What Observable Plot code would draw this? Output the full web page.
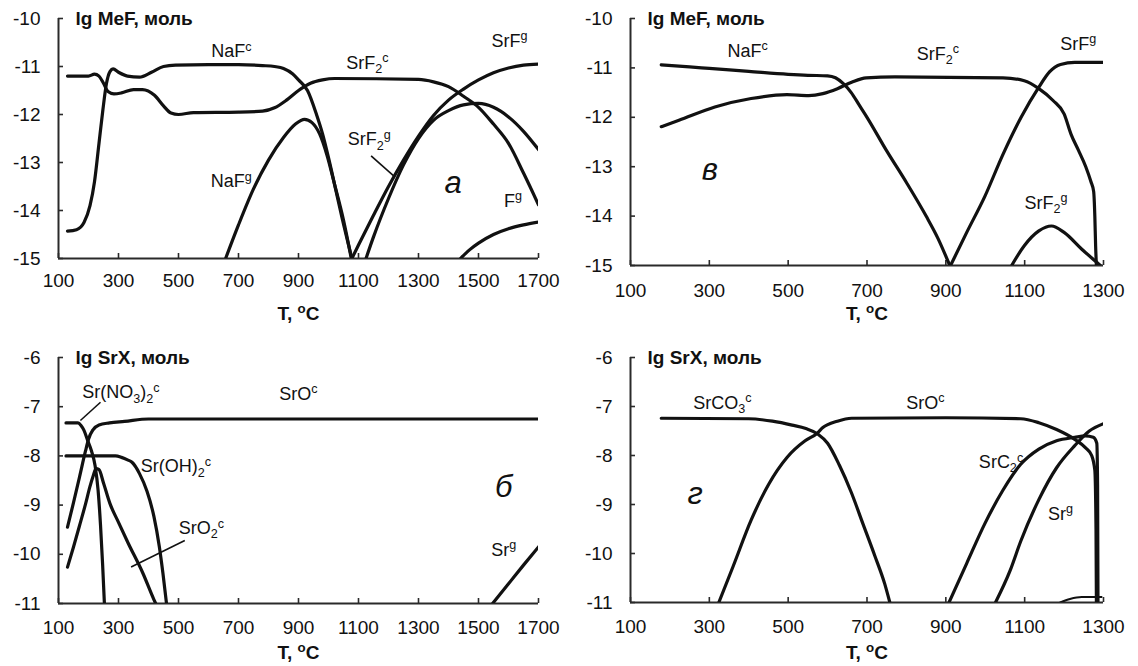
<!DOCTYPE html>
<html>
<head>
<meta charset="utf-8">
<script src="https://cdn.jsdelivr.net/npm/d3@7"></script>
<script src="https://cdn.jsdelivr.net/npm/@observablehq/plot@0.6"></script>
<style>
  body { margin: 0; background: #fff; }
  #wrap { position: relative; width: 1138px; height: 666px; overflow: hidden; }
  .panel { position: absolute; }
</style>
</head>
<body>
<div id="wrap"></div>
<script>
const FONT = "'Liberation Sans', Arial, Helvetica, sans-serif";

// Axis ticks
const tempTicksWide = [100, 300, 500, 700, 900, 1100, 1300, 1500, 1700];
const tempTicksNarrow = [100, 300, 500, 700, 900, 1100, 1300];
const mefTicks = [-15, -14, -13, -12, -11, -10];
const srxTicks = [-11, -10, -9, -8, -7, -6];

// Panel а: lg MeF vs T, 100–1700 °C  ([T, lg n])
const aNaFc = [[130,-14.43],[160,-14.4],[185,-14.25],[205,-13.9],[220,-13.4],[235,-12.6],[248,-11.9],[260,-11.35],[272,-11.1],[282,-11.05],[300,-11.12],[330,-11.2],[370,-11.22],[410,-11.12],[450,-11.0],[490,-10.97],[600,-10.96],[700,-10.96],[780,-10.98],[820,-11.0],[850,-11.04],[880,-11.15],[900,-11.28],[930,-11.5],[960,-12.0],[980,-12.4],[1000,-12.9],[1020,-13.45],[1045,-14.15],[1078,-15]];
const aSrF2c = [[130,-11.2],[200,-11.2],[220,-11.16],[235,-11.2],[250,-11.35],[265,-11.52],[285,-11.57],[310,-11.55],[350,-11.48],[380,-11.48],[420,-11.6],[450,-11.82],[475,-11.97],[500,-12.0],[550,-11.96],[700,-11.95],[780,-11.93],[820,-11.86],[860,-11.7],[900,-11.5],[940,-11.35],[980,-11.28],[1020,-11.25],[1300,-11.27],[1350,-11.32],[1400,-11.42],[1450,-11.62],[1500,-11.85],[1550,-12.2],[1600,-12.6],[1650,-13.22],[1700,-13.88]];
const aSrFg = [[1078,-15],[1100,-14.72],[1150,-14.1],[1200,-13.5],[1250,-12.95],[1300,-12.45],[1350,-12.02],[1400,-11.7],[1450,-11.47],[1500,-11.28],[1550,-11.13],[1600,-11.03],[1650,-10.97],[1700,-10.95]];
const aSrF2g = [[1125,-15],[1150,-14.55],[1200,-13.75],[1250,-13.05],[1300,-12.5],[1350,-12.12],[1400,-11.92],[1450,-11.8],[1500,-11.77],[1550,-11.85],[1600,-12.05],[1650,-12.35],[1700,-12.73]];
const aFg = [[1440,-15],[1470,-14.82],[1500,-14.68],[1550,-14.5],[1600,-14.38],[1650,-14.3],[1700,-14.24]];
const aNaFg = [[657,-15],[700,-14.3],[750,-13.55],[800,-12.95],[850,-12.48],[890,-12.2],[920,-12.1],[945,-12.17],[970,-12.4],[995,-12.85],[1020,-13.45],[1050,-14.2],[1076,-15]];

// Panel в: lg MeF vs T, 100–1300 °C
const vNaFc = [[178,-10.94],[250,-10.98],[300,-11.01],[400,-11.07],[500,-11.13],[550,-11.15],[600,-11.16],[620,-11.2],[640,-11.32],[660,-11.5],[680,-11.75],[700,-12.0],[750,-12.68],[800,-13.32],[850,-14.0],[880,-14.45],[910,-15]];
const vSrF2c = [[178,-12.19],[223,-12.06],[314,-11.79],[406,-11.62],[497,-11.54],[552,-11.56],[588,-11.52],[625,-11.42],[661,-11.29],[698,-11.2],[771,-11.18],[1045,-11.2],[1099,-11.26],[1136,-11.42],[1172,-11.66],[1200,-11.93],[1218,-12.35],[1236,-12.66],[1255,-13.0],[1268,-13.3],[1275,-13.5],[1278,-14.0],[1280,-14.6],[1282,-15]];
const vSrFg = [[912,-15],[953,-14.33],[999,-13.6],[1045,-12.75],[1091,-12.0],[1136,-11.39],[1163,-11.08],[1191,-10.93],[1227,-10.89],[1300,-10.89]];
const vSrF2g = [[1067,-15],[1099,-14.6],[1136,-14.3],[1168,-14.2],[1200,-14.33],[1245,-14.67],[1282,-14.93],[1292,-15]];

// Panel б: lg SrX vs T, 100–1700 °C
const bSrOc = [[130,-9.45],[150,-8.95],[170,-8.43],[190,-7.9],[200,-7.66],[215,-7.47],[235,-7.37],[270,-7.33],[320,-7.3],[400,-7.25],[600,-7.25],[1700,-7.25]];
const bSrNO32c = [[125,-7.33],[165,-7.33],[175,-7.38],[185,-7.48],[198,-7.7],[210,-7.9],[222,-8.2],[232,-8.7],[240,-9.4],[247,-10.2],[253,-11]];
const bSrOH2c = [[125,-8.0],[290,-8.0],[310,-8.03],[330,-8.08],[345,-8.13],[370,-8.36],[395,-8.72],[418,-9.23],[436,-9.84],[448,-10.38],[460,-11]];
const bSrO2c = [[130,-10.26],[150,-9.85],[170,-9.42],[190,-8.98],[205,-8.62],[215,-8.42],[225,-8.26],[235,-8.28],[250,-8.55],[271,-8.96],[300,-9.35],[332,-9.77],[381,-10.38],[418,-10.92],[424,-11]];
const bSrg = [[1547,-11],[1600,-10.6],[1650,-10.22],[1700,-9.85]];

// Panel г: lg SrX vs T, 100–1300 °C
const gSrCO3c = [[178,-7.24],[400,-7.25],[460,-7.3],[510,-7.38],[545,-7.45],[575,-7.56],[600,-7.75],[630,-8.2],[660,-8.75],[690,-9.4],[720,-10.05],[745,-10.62],[758,-11]];
const gSrOc = [[324,-11],[360,-10.27],[406,-9.32],[451,-8.58],[497,-8.04],[543,-7.7],[573,-7.55],[588,-7.43],[625,-7.3],[661,-7.24],[900,-7.23],[1090,-7.25],[1136,-7.33],[1181,-7.47],[1227,-7.67],[1254,-7.84],[1270,-8.0],[1278,-8.3],[1281,-9.5],[1282,-11]];
const gSrC2c = [[908,-11],[953,-10.2],[999,-9.39],[1044,-8.72],[1090,-8.18],[1136,-7.87],[1181,-7.7],[1227,-7.63],[1254,-7.6],[1274,-7.63],[1283,-7.75],[1285,-8.6],[1286,-11]];
const gSrg = [[1026,-11],[1063,-10.35],[1090,-9.75],[1136,-8.9],[1181,-8.25],[1227,-7.8],[1264,-7.5],[1300,-7.35]];
const gTrace = [[1190,-11],[1215,-10.93],[1245,-10.89],[1295,-10.89]];

// Species labels (^ = superscript, _ = subscript)
const aLabels = [
  {text: "NaF^c", t: 676, v: -10.69},
  {text: "SrF_2^c", t: 1130, v: -10.93},
  {text: "SrF^g", t: 1603, v: -10.47},
  {text: "NaF^g", t: 676, v: -13.39},
  {text: "SrF_2^g", t: 1136, v: -12.52},
  {text: "F^g", t: 1615, v: -13.8}
];
const aLeaders = [{t1: 1142, v1: -12.86, t2: 1221, v2: -13.3}];
const vLabels = [
  {text: "NaF^c", t: 397, v: -10.66},
  {text: "SrF_2^c", t: 880, v: -10.72},
  {text: "SrF^g", t: 1236, v: -10.52},
  {text: "SrF_2^g", t: 1154, v: -13.73}
];
const bLabels = [
  {text: "Sr(NO_3)_2^c", t: 308, v: -6.71},
  {text: "SrO^c", t: 900, v: -6.74},
  {text: "Sr(OH)_2^c", t: 491, v: -8.22},
  {text: "SrO_2^c", t: 576, v: -9.47},
  {text: "Sr^g", t: 1584, v: -9.91}
];
const bLeaders = [
  {t1: 240, v1: -6.91, t2: 173, v2: -7.28},
  {t1: 521, v1: -9.72, t2: 342, v2: -10.26}
];
const gLabels = [
  {text: "SrCO_3^c", t: 333, v: -6.93},
  {text: "SrO^c", t: 848, v: -6.93},
  {text: "SrC_2^c", t: 1040, v: -8.14},
  {text: "Sr^g", t: 1191, v: -9.19}
];

function rows(curves) {
  return curves.flatMap(([name, pts]) => pts.map(([t, v]) => ({name, t, v})));
}

// Turn ^x / _x markers into raised / lowered tspans
function richText(svg) {
  const NS = "http://www.w3.org/2000/svg";
  svg.querySelectorAll("text").forEach(el => {
    const s = el.textContent;
    if (!/[\^_]/.test(s)) return;
    const fs = parseFloat(getComputedStyle(el).fontSize) || 18;
    el.textContent = "";
    let shift = 0;
    for (let i = 0; i < s.length; i++) {
      let ch = s[i], target = 0, small = false;
      if ((ch === "^" || ch === "_") && i + 1 < s.length) {
        target = ch === "^" ? -0.36 * fs : 0.24 * fs;
        small = true;
        ch = s[++i];
      }
      const ts = document.createElementNS(NS, "tspan");
      if (target !== shift) { ts.setAttribute("dy", (target - shift).toFixed(2)); shift = target; }
      if (small) ts.setAttribute("font-size", (0.7 * fs).toFixed(1));
      ts.textContent = ch;
      el.appendChild(ts);
    }
  });
}

function panel(cfg) {
  const [x0] = cfg.xDomain, [y0] = cfg.yDomain;
  const chart = Plot.plot({
    width: 569, height: 333,
    marginLeft: cfg.m[0], marginTop: cfg.m[1], marginRight: cfg.m[2], marginBottom: cfg.m[3],
    x: {domain: cfg.xDomain},
    y: {domain: cfg.yDomain},
    style: {fontFamily: FONT, fontSize: "19px", color: "#111", background: "transparent", overflow: "visible"},
    marks: [
      Plot.ruleX([x0], {stroke: "#2a2a2a", strokeWidth: 2}),
      Plot.ruleY([y0], {stroke: "#2a2a2a", strokeWidth: 2}),
      Plot.axisX(cfg.xTicks, {tickSize: -5, tickPadding: cfg.xPad + 5, tickFormat: d => String(d), label: null, stroke: "#2a2a2a", strokeWidth: 1.6}),
      Plot.axisY(cfg.yTicks, {tickSize: -5, tickPadding: 23, tickFormat: d => String(d), label: null, stroke: "#2a2a2a", strokeWidth: 1.6}),
      Plot.line(rows(cfg.curves), {x: "t", y: "v", z: "name", stroke: "#111", strokeWidth: 3.2, curve: "monotone-x", strokeLinejoin: "round", strokeLinecap: "round", clip: true}),
      Plot.line(rows(cfg.thin || []), {x: "t", y: "v", z: "name", stroke: "#111", strokeWidth: 2, curve: "monotone-x", clip: true}),
      Plot.link(cfg.leaders || [], {x1: "t1", y1: "v1", x2: "t2", y2: "v2", stroke: "#111", strokeWidth: 1.6}),
      Plot.text(cfg.labels, {x: "t", y: "v", text: "text", fontSize: 18, fill: "#111"}),
      Plot.text([cfg.letter], {x: d => d.t, y: d => d.v, text: d => d.text, fontSize: 31, fontStyle: "italic", fill: "#111"}),
      Plot.text([cfg.title], {frameAnchor: "top-left", dx: 17, textAnchor: "start", lineAnchor: "middle", fontSize: 19, fontWeight: "bold", fill: "#111"}),
      Plot.text(["T, ^oC"], {frameAnchor: "bottom", dy: cfg.xLabelDy, lineAnchor: "middle", fontSize: 19, fontWeight: "bold", fill: "#111"})
    ]
  });
  const box = document.createElement("div");
  box.className = "panel";
  box.style.left = cfg.left + "px";
  box.style.top = cfg.top + "px";
  box.appendChild(chart);
  document.getElementById("wrap").appendChild(box);
  richText(chart);
}

panel({
  left: 0, top: 0, m: [58, 18, 31, 75],
  xDomain: [100, 1700], yDomain: [-15, -10], xTicks: tempTicksWide, yTicks: mefTicks,
  xPad: 15, xLabelDy: 55, title: "lg MeF, моль",
  curves: [["NaFc", aNaFc], ["SrF2c", aSrF2c], ["SrFg", aSrFg], ["SrF2g", aSrF2g], ["Fg", aFg], ["NaFg", aNaFg]],
  labels: aLabels, leaders: aLeaders, letter: {text: "а", t: 1415, v: -13.42}
});
panel({
  left: 569, top: 0, m: [61, 18, 35, 68],
  xDomain: [100, 1300], yDomain: [-15, -10], xTicks: tempTicksNarrow, yTicks: mefTicks,
  xPad: 18, xLabelDy: 48, title: "lg MeF, моль",
  curves: [["NaFc", vNaFc], ["SrF2c", vSrF2c], ["SrFg", vSrFg], ["SrF2g", vSrF2g]],
  labels: vLabels, letter: {text: "в", t: 301, v: -13.06}
});
panel({
  left: 0, top: 333, m: [58, 24, 31, 63],
  xDomain: [100, 1700], yDomain: [-11, -6], xTicks: tempTicksWide, yTicks: srxTicks,
  xPad: 17, xLabelDy: 49, title: "lg SrX, моль",
  curves: [["SrOc", bSrOc], ["SrNO32c", bSrNO32c], ["SrOH2c", bSrOH2c], ["SrO2c", bSrO2c], ["Srg", bSrg]],
  labels: bLabels, leaders: bLeaders, letter: {text: "б", t: 1584, v: -8.63}
});
panel({
  left: 569, top: 333, m: [61, 24, 35, 64],
  xDomain: [100, 1300], yDomain: [-11, -6], xTicks: tempTicksNarrow, yTicks: srxTicks,
  xPad: 17, xLabelDy: 50, title: "lg SrX, моль",
  curves: [["SrCO3c", gSrCO3c], ["SrOc", gSrOc], ["SrC2c", gSrC2c], ["Srg", gSrg]],
  thin: [["trace", gTrace]],
  labels: gLabels, letter: {text: "г", t: 264, v: -8.78}
});
</script>
</body>
</html>
